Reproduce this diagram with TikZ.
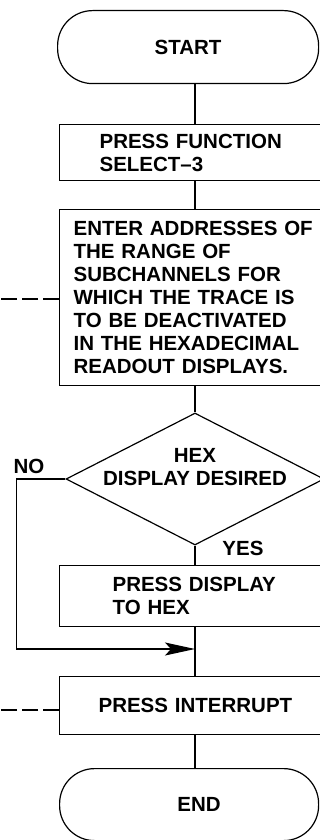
\documentclass[tikz,border=0pt]{standalone}
\usepackage{fontspec}
\setmainfont{Liberation Sans}
\usetikzlibrary{shapes.geometric, arrows.meta}

\begin{document}
\begin{tikzpicture}[
    x=1pt, y=-1pt,
    font=\bfseries\fontsize{20.5}{23}\selectfont,
    box/.style={rectangle, draw, line width=1.2pt, anchor=north west, align=left, inner ysep=0pt},
    termbox/.style={rectangle, rounded corners=35pt, draw, line width=1.2pt, anchor=north west, minimum height=73pt},
    decbox/.style={diamond, draw, line width=1.2pt, minimum width=258pt, minimum height=132pt, inner sep=0pt},
    link/.style={line width=1.2pt},
    arrow/.style={link, -{Stealth[length=30pt, width=13pt, inset=6pt]}},
    feed/.style={link, dash pattern=on 16pt off 5pt}
]
    \useasboundingbox (0,0) rectangle (320,840);
    \coordinate (spine) at (195,0);

    \node[termbox, minimum width=261pt] (start) at (57,10) {START};
    \node[box, minimum height=56pt, inner xsep=40pt, text width=201pt] (sel) at (59,124) {PRESS FUNCTION\\SELECT--3};
    \node[box, minimum height=176pt, inner xsep=14pt, text width=253pt] (enter) at (59,209) {ENTER ADDRESSES OF\\THE RANGE OF\\SUBCHANNELS FOR\\WHICH THE TRACE IS\\TO BE DEACTIVATED\\IN THE HEXADECIMAL\\READOUT DISPLAYS.};
    \node[decbox, label={[align=center, yshift=12pt]center:HEX\\DISPLAY DESIRED}] (dec) at (195,479) {};
    \node[box, minimum height=61pt, inner xsep=53pt, text width=175pt] (disp) at (59,565) {PRESS DISPLAY\\TO HEX};
    \node[box, minimum height=58pt, inner xsep=39pt, text width=203pt] (intr) at (59,676) {PRESS INTERRUPT};
    \node[termbox, minimum width=259pt, minimum height=72pt, label={[xshift=10pt]center:END}] (end) at (59,768) {};

    \node (nolbl) at (29,466) {NO};
    \node (yeslbl) at (243,548) {YES};

    \coordinate (join) at (195,649);
    \coordinate (fb1) at (0,299);
    \coordinate (fb2) at (0,710);

    \draw[link] (start.south -| spine) -- (sel.north -| spine);
    \draw[link] (sel.south -| spine) -- (enter.north -| spine);
    \draw[link] (enter.south -| spine) -- (dec.north);
    \draw[link] (dec.south) -- (disp.north -| spine);
    \draw[link] (disp.south -| spine) -- (intr.north -| spine);
    \draw[link] (intr.south -| spine) -- (end.north -| spine);
    \draw[arrow] (dec.west) -- ++(-49,0) |- (join);
    \draw[feed] (fb1 -| enter.west) -- (fb1);
    \draw[feed] (fb2 -| intr.west) -- (fb2);
\end{tikzpicture}
\end{document}
